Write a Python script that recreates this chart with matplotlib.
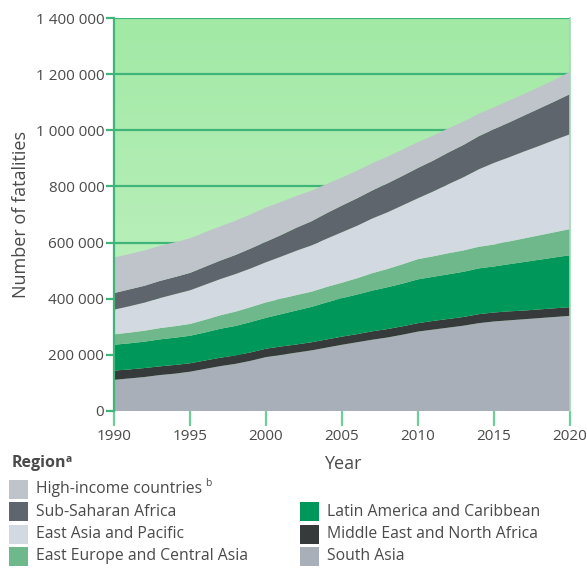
import numpy as np
import matplotlib
matplotlib.use("Agg")
import matplotlib.pyplot as plt
from matplotlib.patches import Rectangle
from matplotlib.colors import LinearSegmentedColormap
from matplotlib.ticker import FuncFormatter

plt.rcParams['font.family'] = ['Open Sans', 'DejaVu Sans']

################# data (thousands of fatalities) #################
years = list(range(1990, 2021))
south_asia = [111,116,121,128,133,140,150,160,168,179,192,200,208,216,226,236,245,254,262,272,283,290,297,304,313,319,323,327,331,335,339]
mena = [33,32,32,31,31,30,30,30,30,30,30,30,29,29,29,29,29,30,30,30,30,31,31,31,32,32,32,31,31,31,31]
latin = [92,93,94,96,97,98,100,103,105,108,110,115,121,126,132,137,141,145,149,152,156,157,159,161,163,164,168,173,177,181,185]
east_europe = [37,38,39,40,41,42,45,48,51,53,55,55,55,54,55,55,58,62,65,69,72,73,75,76,77,78,81,84,87,90,93]
east_asia = [88,94,100,107,114,120,125,129,134,138,143,150,158,165,172,180,187,195,202,210,217,231,246,261,276,291,300,310,319,329,338]
ssa = [59,60,60,61,61,62,64,66,68,71,73,77,82,86,91,95,98,100,103,105,108,110,113,115,118,120,124,128,133,137,143]
high_income = [127,126,126,125,124,123,123,122,122,122,122,118,113,109,104,100,98,97,95,94,92,89,86,83,80,78,78,77,77,77,79]

region_names = ["South Asia", "Middle East and North Africa", "Latin America and Caribbean",
                "East Europe and Central Asia", "East Asia and Pacific", "Sub-Saharan Africa",
                "High-income countries"]
region_colors = ["#a9afb8", "#363a3a", "#00975a", "#6fb88b", "#d3d9e0", "#5f656c", "#bfc4cb"]
series = [south_asia, mena, latin, east_europe, east_asia, ssa, high_income]
yticks = [0, 200000, 400000, 600000, 800000, 1000000, 1200000, 1400000]
xticks = [1990, 1995, 2000, 2005, 2010, 2015, 2020]
################# data #################

GREEN = "#3fb57a"
TXT = "#4a4a4a"
W, H = 587, 568

fig = plt.figure(figsize=(5.87, 5.68), dpi=100)
ax = fig.add_axes([114/W, 1 - 411/H, (570-114)/W, (411-18)/H])

# gradient background
cmap = LinearSegmentedColormap.from_list("bg", ["#c6f3c7", "#a2e9a5"])
grad = np.linspace(0, 1, 256).reshape(-1, 1)
ax.imshow(grad, extent=[1990, 2020, 0, 1400000], origin="lower", aspect="auto",
          cmap=cmap, zorder=0)

for y in yticks[1:]:
    ax.axhline(y, color=GREEN, lw=1.6, zorder=1)

vals = [np.array(s) * 1000 for s in series]
ax.stackplot(years, *vals, colors=region_colors, zorder=2, lw=0)

ax.set_xlim(1990, 2020)
ax.set_ylim(0, 1400000)
ax.set_xticks(xticks)
ax.set_yticks(yticks)
ax.yaxis.set_major_formatter(FuncFormatter(lambda v, p: f"{int(v):,}".replace(",", " ")))
ax.tick_params(axis="x", length=11, width=1.6, color="#6fcf9a", labelsize=11, labelcolor=TXT, pad=2)
ax.tick_params(axis="y", length=6, width=1.6, color=GREEN, labelsize=11, labelcolor=TXT, pad=1)
for s in ["top", "bottom"]:
    ax.spines[s].set_visible(False)
ax.spines["left"].set_color(GREEN)
ax.spines["left"].set_linewidth(1.6)
ax.spines["left"].set_zorder(5)
ax.spines["right"].set_color("#9fd9b5")
ax.spines["right"].set_linewidth(1.2)

ax.set_ylabel("Number of fatalities", fontsize=13, color=TXT, labelpad=4)
fig.text(343/W, 1 - 464/H, "Year", fontsize=13, color=TXT, ha="center", va="center")

# legend drawn by hand
region_txt = fig.text(12/W, 1 - 463/H, "Region", fontsize=11.5, fontweight="bold", color=TXT, va="center")
legend_items = [("High-income countries", 6, 0, 0), ("Sub-Saharan Africa", 5, 0, 1),
                ("East Asia and Pacific", 4, 0, 2), ("East Europe and Central Asia", 3, 0, 3),
                ("Latin America and Caribbean", 2, 1, 1), ("Middle East and North Africa", 1, 1, 2),
                ("South Asia", 0, 1, 3)]
row_y = [489, 511.5, 534, 556.5]
col_x = [9, 300]
texts = {}
for label, idx, col, row in legend_items:
    x0 = col_x[col]
    yc = row_y[row]
    fig.add_artist(Rectangle((x0/W, 1 - (yc+9.5)/H), 19/W, 19/H,
                             transform=fig.transFigure, color=region_colors[idx], lw=0))
    texts[label] = fig.text((x0+27)/W, 1 - yc/H, label, fontsize=11.3, color=TXT, va="center")

# superscripts placed just after their words
fig.canvas.draw()
r = fig.canvas.get_renderer()
bb = region_txt.get_window_extent(r)
fig.text((bb.x1 - 1)/W, (bb.y1 - 4)/H, "a", fontsize=7.5, fontweight="bold", color=TXT, va="center")
bb = texts["High-income countries"].get_window_extent(r)
fig.text((bb.x1 + 3)/W, (bb.y1 - 3)/H, "b", fontsize=7.5, color=TXT, va="center")

fig.savefig("out.png", dpi=100)
